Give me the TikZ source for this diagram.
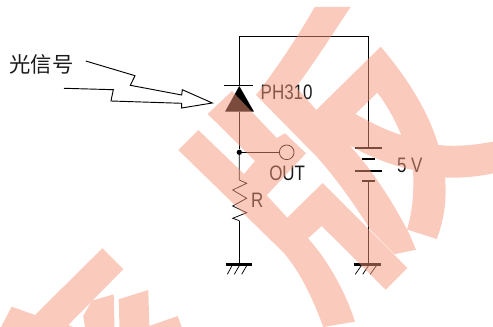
\documentclass[tikz,border=0pt]{standalone}
\usepackage{fontspec}
\usepackage{graphicx}
\setmainfont{Liberation Sans}
\newfontfamily\cjkfont{Noto Sans CJK SC}
\definecolor{wm}{HTML}{F6967A}
\newcommand{\cond}[1]{\scalebox{.81}[1]{\fontsize{15.7}{15.7}\selectfont #1}}
\tikzset{
  wire/.style={line width=.75pt,black},
  heavy/.style={line width=1.7pt,black},
  thin wire/.style={line width=.55pt,black},
  lab/.style={inner sep=0pt,outer sep=0pt,anchor=base west,text=black!90},
  wmfill/.style={fill=wm,draw=none,even odd rule},
  pin/.style={circle,draw,line width=.6pt,minimum size=11pt,inner sep=0pt},
  junction/.style={circle,fill=black,minimum size=4pt,inner sep=0pt}
}
\begin{document}
\begin{tikzpicture}[x=.75pt,y=-.75pt]
\useasboundingbox (0,0) rectangle (493,327);
% named points
\coordinate (topL) at (239.3,36.3);
\coordinate (topR) at (368,36.3);
\coordinate (cathode) at (239.3,85.5);
\coordinate (anodeB) at (239.3,111.7);
\coordinate (rtop) at (239.3,180);
\coordinate (rbot) at (239.3,220.7);
\coordinate (gndL) at (239.3,264.3);
\coordinate (gndR) at (368,264.3);
\coordinate (bat1) at (368,148);
\coordinate (bat4) at (368,181.3);
\node[junction] (dot) at (239.3,152.3) {};
\node[pin] (out) at (286.7,152.3) {};
% wires
\draw[wire] (cathode) -- (topL) -- (topR) -- (bat1);
\draw[wire] (anodeB) -- (dot);
\draw[thin wire] (dot) -- (out);
\draw[thin wire,line join=miter] (dot) -- (rtop) -- (246.7,183.3) -- (232.7,190) -- (246.7,198.3) -- (232.7,206) -- (246.7,212.7) -- (232.7,218.3) -- (rbot);
\draw[wire] (rbot) -- (gndL);
\draw[wire] (bat4) -- (gndR);
% photodiode
\draw[wire] (224.3,85.5) -- (253.3,85.5);
\fill[black] (239.3,86) -- (254,111.7) -- (225,111.7) -- cycle;
% battery
\draw[heavy] (355,148) -- (382,148);
\draw[heavy] (362,158.7) -- (375,158.7);
\draw[heavy] (355,170.7) -- (382,170.7);
\draw[heavy] (362,181.3) -- (375,181.3);
% grounds
\draw[heavy] (225.7,264.5) -- (251.7,264.5);
\draw[thin wire] (232,265.7) -- (227.3,274.3) (239.3,265.7) -- (234.3,274.3) (246.7,265.7) -- (241.7,274.3);
\draw[heavy] (354,264.5) -- (380.7,264.5);
\draw[thin wire] (361.3,265.7) -- (355.3,274.3) (368.5,265.7) -- (362.7,274.3) (376.3,265.7) -- (370.3,274.3);
% lightning arrow
\draw[line width=.7pt,black,line join=miter] (85.7,61) -- (135,75.7) -- (130.3,85.3) -- (181.7,95) -- (182.3,89.7) -- (212.3,103) -- (181.7,108) -- (181.7,103.3) -- (111,101) -- (113.3,89.7) -- (64,88.3);
% labels
\node[lab,text=black!90] (sig) at (9.5,73) {\fontsize{16}{16}\cjkfont 光信号};
\node[lab] (ph) at (260.7,99.7) {\cond{PH310}};
\node[lab] (outl) at (269.3,180.2) {\cond{OUT}};
\node[lab] (rl) at (251,207.7) {\cond{R}};
\node[lab] (five) at (397,172.7) {\cond{5 V}};
% watermark
\begin{scope}[transparency group,opacity=.5]
\fill[wmfill] (198.3,130) -- (244,174) -- (255,161) -- (207.7,114) -- (232,91) -- (276.7,138) -- (285,133.3) -- (306,153.3) -- (266.7,195.3) -- (287.3,217.7) -- (322.7,183) -- (407.3,268) -- (385.7,289.7) -- (321.7,226) -- (308,238.3) .. controls (326,258) and (345,290) .. (355,321.7) -- (323.3,327) .. controls (315,305) and (303,275) .. (283,252) -- (178.3,150) -- cycle;
\fill[wmfill] (314.7,7) -- (350.7,7) .. controls (335,30) and (315,62) .. (296,87) -- (316.3,110) -- (380.7,46.7) .. controls (405,75) and (428,110) .. (438.3,145) .. controls (456,147) and (475,145) .. (493,141.7) -- (493,173.3) .. controls (477,177) and (460,178) .. (445,177.7) .. controls (447,200) and (444,220) .. (436.7,239) -- (407,229.5) .. controls (413,210) and (414,190) .. (413,170) .. controls (390,165) and (368,156) .. (349.3,145) .. controls (372,170) and (392,200) .. (409.3,234) -- (416,249.7) -- (394.3,254.3) -- (370.7,230.3) .. controls (355,205) and (335,177) .. (316.7,156.7) -- (256,95) .. controls (277,68) and (297,38) .. (314.7,7) -- cycle
 (377.3,92.7) -- (355.3,114) .. controls (370,122) and (385,130) .. (401.3,135) .. controls (395,120) and (387,105) .. (377.3,92.7) -- cycle;
\fill[wmfill] (1,327) -- (11.7,306.7) -- (35,315) -- (102.3,248.3) -- (123.3,269.3) -- (68.3,325) -- (73,327) -- cycle;
\fill[wmfill] (83.3,316) -- (91.7,300.7) -- (113.7,294.3) -- (114.5,327) -- (85,327) -- cycle;
\fill[wmfill] (118.7,299.3) -- (148.3,290) -- (149.3,326) -- (177.7,316) -- (181.7,327) -- (119.5,327) -- cycle;
\end{scope}
\end{tikzpicture}
\end{document}
